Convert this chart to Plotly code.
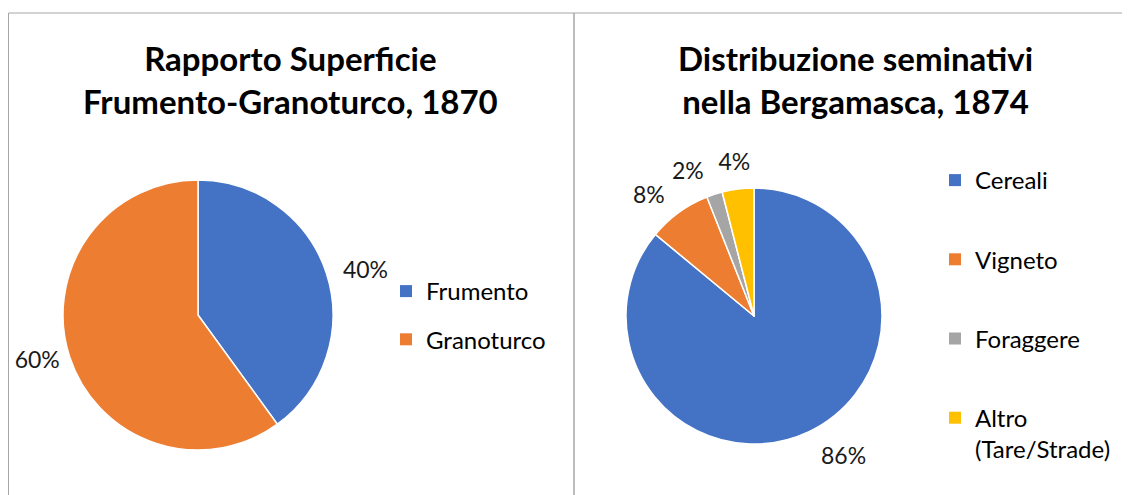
import plotly.graph_objects as go

# page is shown with the browser's default 8px body margin
OFF = 8
W, H = 1130 - OFF, 495 - OFF

# ---- data ----
left_title = "Rapporto Superficie<br>Frumento-Granoturco, 1870"
left_labels = ["Frumento", "Granoturco"]
left_values = [40, 60]
left_colors = ["#4472C4", "#ED7D31"]

right_title = "Distribuzione seminativi<br>nella Bergamasca, 1874"
right_labels = ["Cereali", "Vigneto", "Foraggere", "Altro<br>(Tare/Strade)"]
right_values = [86, 8, 2, 4]
right_colors = ["#4472C4", "#ED7D31", "#A5A5A5", "#FFC000"]

FONT = "Lato"
TXT = "#1a1a1a"
LBL = 23


def px_x(v):
    return (v - OFF) / W


def px_y(v):
    return 1 - (v - OFF) / H


def dom(cx, cy, r):
    return dict(x=[px_x(cx - r), px_x(cx + r)], y=[px_y(cy + r), px_y(cy - r)])


fig = go.Figure()


def add_pie(labels, values, colors, cx, cy, r, label_style):
    """Draw a pie, then one transparent overlay per slice carrying its percentage label.
    label_style[i] = ("outside", radius) or ("ring", outer radius)."""
    n = len(values)
    fig.add_trace(go.Pie(
        labels=labels, values=values, sort=False, direction="clockwise", rotation=0,
        marker=dict(colors=colors, line=dict(color="white", width=1.5)),
        textinfo="none", showlegend=False, hoverinfo="label+percent",
        domain=dom(cx, cy, r),
    ))
    for i in range(n):
        mode, ro = label_style[i]
        ring = mode == "ring"
        fig.add_trace(go.Pie(
            labels=labels, values=values, sort=False, direction="clockwise", rotation=0,
            marker=dict(colors=["rgba(0,0,0,0)"] * n, line=dict(width=0)),
            hole=(r / ro) if ring else 0,
            textposition=[("inside" if ring else "outside") if j == i else "none" for j in range(n)],
            insidetextorientation="horizontal",
            texttemplate="%{percent:.0%}",
            textfont=dict(family=FONT, size=LBL, color=TXT),
            showlegend=False, hoverinfo="skip",
            domain=dom(cx, cy, ro),
        ))


add_pie(left_labels, left_values, left_colors, 198, 315, 135,
        [("outside", 145), ("outside", 138)])
add_pie(right_labels, right_values, right_colors, 754, 316, 128,
        [("outside", 141), ("outside", 140), ("outside", 140), ("ring", 176)])

# legend entries
for lab, col in zip(left_labels, left_colors):
    fig.add_trace(go.Scatter(x=[None], y=[None], mode="markers", name=lab,
                             legendgroup=lab, legend="legend",
                             marker=dict(symbol="square", size=12, color=col)))
for lab, col in zip(right_labels, right_colors):
    fig.add_trace(go.Scatter(x=[None], y=[None], mode="markers", name=lab,
                             legendgroup=lab, legend="legend2",
                             marker=dict(symbol="square", size=12, color=col)))

border = "#A6A6A6"
shapes = [
    dict(type="rect", xref="paper", yref="paper", x0=px_x(8.5), x1=px_x(574), y0=-0.05, y1=px_y(13),
         line=dict(color=border, width=1)),
    dict(type="rect", xref="paper", yref="paper", x0=px_x(574), x1=1.05, y0=-0.05, y1=px_y(13),
         line=dict(color=border, width=1)),
]

annotations = [
    dict(text=left_title, x=px_x(290), y=px_y(80), xref="paper", yref="paper",
         xanchor="center", yanchor="middle", showarrow=False,
         font=dict(family=FONT, size=33, color="black", weight="bold")),
    dict(text=right_title, x=px_x(855), y=px_y(80), xref="paper", yref="paper",
         xanchor="center", yanchor="middle", showarrow=False,
         font=dict(family=FONT, size=33, color="black", weight="bold")),
]

fig.update_layout(
    width=W, height=H, margin=dict(l=0, r=0, t=0, b=0),
    paper_bgcolor="white", plot_bgcolor="white",
    xaxis=dict(visible=False), yaxis=dict(visible=False),
    shapes=shapes, annotations=annotations,
    uniformtext=dict(minsize=LBL, mode="show"),
    legend=dict(x=px_x(386), y=px_y(269), xanchor="left", yanchor="top",
                font=dict(family=FONT, size=24, color="black"),
                tracegroupgap=14, valign="top", bgcolor="rgba(0,0,0,0)", itemclick=False),
    legend2=dict(x=px_x(935), y=px_y(158), xanchor="left", yanchor="top",
                 font=dict(family=FONT, size=24, color="black"),
                 tracegroupgap=45, valign="top", bgcolor="rgba(0,0,0,0)", itemclick=False),
)

fig.write_html("out.html")
